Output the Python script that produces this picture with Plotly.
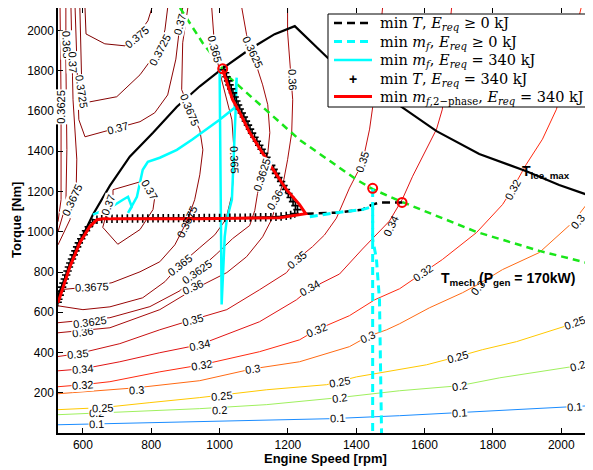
import plotly.graph_objects as go

# ---------------- efficiency contour lines (rpm, Nm) ----------------
c010_rpm = [527, 942, 1322, 1527, 1702, 1994, 2090]
c010_nm = [41, 56, 71, 86, 101, 126, 136]
c020_rpm = [527, 796, 942, 1138, 1351, 1527, 1702, 1819, 2015, 2090]
c020_nm = [91, 111, 121, 141, 176, 210, 235, 274, 324, 345]
c025_rpm = [527, 656, 796, 942, 1138, 1313, 1401, 1527, 1606, 1696, 1769, 1869, 1994, 2090]
c025_nm = [116, 126, 151, 176, 215, 240, 279, 314, 339, 379, 414, 454, 523, 573]
c030_rpm = [527, 758, 942, 1097, 1234, 1380, 1433, 1489, 1527, 1614, 1711, 1755, 1828, 1936, 2033, 2090]
c030_nm = [195, 225, 260, 319, 354, 429, 479, 513, 543, 622, 697, 737, 812, 897, 1046, 1170]
c032_rpm = [527, 600, 679, 825, 948, 1117, 1234, 1284, 1380, 1454, 1527, 1594, 1652, 1752, 1828, 1857, 1898, 1945, 1986, 2023, 2058]
c032_nm = [230, 240, 255, 304, 339, 404, 463, 513, 583, 662, 717, 797, 862, 996, 1135, 1212, 1336, 1460, 1609, 1858, 2112]
c034_rpm = [527, 600, 708, 825, 942, 1117, 1225, 1264, 1351, 1418, 1497, 1535, 1565, 1635, 1652, 1664, 1679]
c034_nm = [309, 319, 354, 399, 439, 553, 662, 716, 790, 914, 1053, 1162, 1276, 1510, 1609, 1858, 2112]
c035_rpm = [527, 585, 708, 825, 921, 1021, 1117, 1196, 1225, 1272, 1307, 1342, 1380, 1418, 1439, 1448, 1462, 1477]
c035_nm = [380, 394, 444, 513, 563, 613, 712, 797, 861, 926, 984, 1068, 1217, 1342, 1510, 1619, 1858, 2112]
c036_rpm = [527, 679, 825, 922, 1021, 1079, 1126, 1152, 1170, 1188, 1199, 1211, 1214, 1205, 1199, 1199]
c036_nm = [498, 523, 613, 712, 797, 876, 975, 1060, 1159, 1259, 1358, 1492, 1656, 1855, 1992, 2113]
c03625a_rpm = [527, 679, 796, 884, 933, 992, 1038, 1088, 1103, 1111, 1126, 1141, 1147, 1141, 1126, 1103, 1079, 1065]
c03625a_nm = [548, 573, 628, 707, 802, 891, 966, 1031, 1106, 1190, 1290, 1389, 1492, 1631, 1730, 1855, 1979, 2113]
c03625b_rpm = [533, 536, 536, 527]
c03625b_nm = [2113, 1656, 1160, 1050]
c0365a_rpm = [527, 600, 679, 775, 840, 884, 942, 986, 1018, 1036, 1044, 1036, 1006, 986, 977]
c0365a_nm = [632, 613, 627, 672, 752, 836, 921, 985, 1060, 1184, 1358, 1556, 1755, 1904, 2113]
c0365b_rpm = [550, 550, 553, 550, 527]
c0365b_nm = [2113, 1858, 1408, 1134, 1000]
c03675a_rpm = [533, 626, 685, 767, 825, 869, 904, 927, 942, 951, 942, 913, 889, 892, 907]
c03675a_nm = [712, 727, 747, 801, 851, 935, 1050, 1159, 1283, 1407, 1507, 1606, 1706, 1939, 2113]
c03675b_rpm = [565, 571, 582, 580, 562, 527]
c03675b_nm = [2113, 1656, 1361, 1194, 1060, 935]
c037a_rpm = [577, 582, 588, 606, 702, 767, 810, 848, 872, 884, 892]
c037a_nm = [2113, 1858, 1557, 1472, 1517, 1547, 1591, 1680, 1858, 2032, 2113]
c037b_rpm = [688, 767, 796, 810, 805, 767, 702, 658, 670, 688, 688]
c037b_nm = [1209, 1248, 1224, 1169, 1110, 1011, 938, 1022, 1097, 1185, 1209]
c03725_rpm = [591, 594, 597, 606, 699, 767, 802, 825, 840, 848]
c03725_nm = [2113, 1858, 1696, 1641, 1671, 1780, 1858, 1914, 2003, 2113]
c0375_rpm = [606, 609, 664, 723, 758, 790, 802]
c0375_nm = [2113, 1983, 1934, 1924, 1974, 2048, 2113]

# contour label texts and positions
lab_text = ["0.1", "0.1", "0.1", "0.1",
            "0.2", "0.2", "0.2", "0.2", "0.2",
            "0.25", "0.25", "0.25", "0.25", "0.25",
            "0.3", "0.3", "0.3", "0.3", "0.3",
            "0.32", "0.32", "0.32", "0.32", "0.32",
            "0.34", "0.34", "0.34", "0.34",
            "0.35", "0.35", "0.35", "0.35",
            "0.36", "0.36", "0.36", "0.36",
            "0.3625", "0.3625", "0.3625", "0.3625",
            "0.365", "0.365", "0.365",
            "0.3675", "0.3675", "0.3675", "0.3675",
            "0.37", "0.37", "0.37", "0.37",
            "0.3725", "0.3725", "0.375",
            "0.3625", "0.365", "0.37"]
lab_rpm = [641, 1345, 1702, 2038,
           641, 1000, 1351, 1702, 2047,
           656, 1006, 1351, 1696, 2038,
           758, 1097, 1433, 1755, 2047,
           600, 948, 1284, 1594, 1857,
           600, 942, 1264, 1501,
           585, 921, 1225, 1418,
           600, 922, 1161, 1214,
           620, 933, 1123, 1097,
           884, 1044, 986,
           626, 904, 913, 568,
           702, 884, 673, 796,
           597, 825, 758,
           536, 553, 571]
lab_nm = [46, 76, 101, 131,
          101, 115, 176, 235, 334,
          126, 186, 255, 379, 548,
          215, 319, 478, 722, 1050,
          240, 339, 513, 797, 1209,
          320, 439, 722, 1030,
          394, 563, 861, 1346,
          503, 727, 1159, 1755,
          553, 801, 1283, 1893,
          836, 1358, 1908,
          727, 1050, 1606, 1159,
          1517, 2032, 1135, 1209,
          1696, 1904, 1969,
          1621, 1929, 1845]
lab_angle = [-2, -3, -4, -5,
             -2, -3, -8, -10, -15,
             -3, -5, -10, -15, -20,
             -4, -8, -25, -50, -50,
             -4, -10, -22, -35, -62,
             -5, -12, -30, -65,
             -5, -15, -40, -72,
             -8, -25, -60, 88,
             -8, -35, -72, 65,
             -38, 88, 75,
             -3, -65, 68, -65,
             -15, -75, -70, 60,
             82, -62, -40,
             -90, 88, 88]
lab_clear = [0] * len(lab_text)
for i in (17, 27, 41, 44):
    lab_clear[i] = 1

# ---------------- overlay curves ----------------
tmax_rpm = [527, 568, 606, 629, 679, 737, 805, 875, 942, 1006, 1088, 1161, 1220, 1316, 1468, 1635, 1760, 1898, 1994, 2088]
tmax_nm = [682, 854, 1003, 1085, 1229, 1373, 1492, 1621, 1723, 1808, 1907, 1982, 2022, 1865, 1696, 1500, 1386, 1301, 1232, 1177]

tmech_rpm = [884, 951, 1030, 1234, 1401, 1448, 1527, 1752, 1936, 2088]
tmech_nm = [2113, 1937, 1765, 1457, 1259, 1212, 1153, 999, 905, 840]

minT_e0_rpm = [1252, 1342, 1418, 1447, 1468, 1535]
minT_e0_nm = [1090, 1095, 1110, 1135, 1145, 1145]

minmf_e0_rpm = [1264, 1342, 1418, 1448, 1448, 1459, 1468, 1474]
minmf_e0_nm = [1075, 1095, 1110, 1125, 964, 865, 662, 0]
minmf_e0b_rpm = [1448, 1448]
minmf_e0b_nm = [1212, 0]

minmf_e340_rpm = [629, 679, 717, 732, 743, 732, 758, 767, 775, 790, 825, 875, 919, 1000, 1044, 1050,
                  1047, 1036, 1021, 1015, 1009, 1006, 1000]
minmf_e340_nm = [1085, 1119, 1159, 1174, 1124, 1094, 1174, 1244, 1308, 1348, 1368, 1407, 1457, 1557, 1616, 1766,
                 1607, 1160, 1060, 976, 728, 639, 1808]

minT_e340_rpm = [526, 528, 532, 535, 539, 543, 547, 551, 555, 559, 563, 568, 573, 578, 583, 588, 595, 602, 609, 617, 628,
                 641, 655, 670, 685, 700, 715, 730, 745, 760, 775, 790, 805, 820, 835, 850, 865, 880, 895, 910, 925,
                 940, 955, 970, 985, 1000, 1015, 1030, 1045, 1060, 1075, 1090, 1105, 1120, 1135, 1150, 1165, 1180,
                 1195, 1208, 1220,
                 1228, 1222, 1215, 1208, 1201, 1194, 1187, 1180, 1172, 1165, 1158, 1151, 1144, 1137, 1130, 1123,
                 1116, 1109, 1102, 1095, 1089, 1083, 1077, 1071, 1065, 1059, 1054, 1049, 1044, 1039, 1034, 1029,
                 1025, 1020, 1016, 1012]
minT_e340_nm = [650, 665, 685, 705, 725, 745, 765, 785, 805, 825, 845, 865, 885, 905, 925, 945, 965, 985, 1005, 1025, 1045,
                1060, 1063, 1064, 1065, 1065, 1065, 1066, 1066, 1066, 1066, 1066, 1067, 1067, 1067, 1067, 1067, 1068,
                1068, 1068, 1068, 1068, 1069, 1069, 1069, 1069, 1069, 1070, 1070, 1070, 1070, 1071, 1071, 1072, 1072,
                1073, 1074, 1076, 1079, 1083, 1090,
                1110, 1130, 1150, 1170, 1190, 1210, 1230, 1250, 1270, 1290, 1310, 1330, 1350, 1370, 1390, 1410,
                1430, 1450, 1470, 1490, 1510, 1530, 1550, 1570, 1590, 1610, 1630, 1650, 1670, 1690, 1710, 1730,
                1750, 1770, 1790, 1805]

minmf2_rpm = [1009, 1038, 1059, 1088, 1147, 1196, 1234, 1252, 1176, 942, 658, 641, 620, 591, 562, 533, 527]
minmf2_nm = [1805, 1657, 1592, 1493, 1334, 1209, 1135, 1090, 1070, 1065, 1065, 1060, 1026, 946, 827, 677, 647]

opt_rpm = [1009, 1448, 1534]
opt_nm = [1810, 1216, 1146]

legend_labels = [
    "min <i>T</i>, <i>E</i><sub><i>req</i></sub> ≥ 0 kJ",
    "min <i>m</i><sub><i>f</i></sub>, <i>E</i><sub><i>req</i></sub> ≥ 0 kJ",
    "min <i>m</i><sub><i>f</i></sub>, <i>E</i><sub><i>req</i></sub> = 340 kJ",
    "min <i>T</i>, <i>E</i><sub><i>req</i></sub> = 340 kJ",
    "min <i>m</i><sub><i>f</i>,2−phase</sub>, <i>E</i><sub><i>req</i></sub> = 340 kJ",
]

# ---------------- styling ----------------
SANS = "Liberation Sans, Arial, Helvetica, sans-serif"
SERIF = "DejaVu Serif, Liberation Serif, serif"

CYAN = "#00ffff"
RED = "#ff0000"
GREEN = "#19e619"
DASH = "8px,5px"

contours = [
    (c010_rpm, c010_nm, "#1a8cff"),
    (c020_rpm, c020_nm, "#9ff05e"),
    (c025_rpm, c025_nm, "#ffc800"),
    (c030_rpm, c030_nm, "#ff6a14"),
    (c032_rpm, c032_nm, "#ff2a10"),
    (c034_rpm, c034_nm, "#e01414"),
    (c035_rpm, c035_nm, "#c81010"),
    (c036_rpm, c036_nm, "#a50a0a"),
    (c03625a_rpm, c03625a_nm, "#9e0808"),
    (c03625b_rpm, c03625b_nm, "#9e0808"),
    (c0365a_rpm, c0365a_nm, "#980606"),
    (c0365b_rpm, c0365b_nm, "#980606"),
    (c03675a_rpm, c03675a_nm, "#920505"),
    (c03675b_rpm, c03675b_nm, "#920505"),
    (c037a_rpm, c037a_nm, "#8c0404"),
    (c037b_rpm, c037b_nm, "#8c0404"),
    (c03725_rpm, c03725_nm, "#860303"),
    (c0375_rpm, c0375_nm, "#800000"),
]

fig = go.Figure()
for xs, ys, col in contours:
    fig.add_trace(go.Scatter(x=xs, y=ys, mode="lines", line=dict(color=col, width=1),
                             hoverinfo="skip", name="efficiency"))

fig.add_trace(go.Scatter(x=tmax_rpm, y=tmax_nm, mode="lines", line=dict(color="black", width=2.2),
                         hoverinfo="skip", name="T ice, max"))
fig.add_trace(go.Scatter(x=tmech_rpm, y=tmech_nm, mode="lines",
                         line=dict(color=GREEN, width=2.5, dash="7px,5px"),
                         hoverinfo="skip", name="T mech"))

fig.add_trace(go.Scatter(x=minT_e0_rpm, y=minT_e0_nm, mode="lines",
                         line=dict(color="black", width=2.5, dash=DASH), name=legend_labels[0]))
fig.add_trace(go.Scatter(x=minmf_e0_rpm, y=minmf_e0_nm, mode="lines",
                         line=dict(color=CYAN, width=3, dash=DASH), name=legend_labels[1]))
fig.add_trace(go.Scatter(x=minmf_e0b_rpm, y=minmf_e0b_nm, mode="lines",
                         line=dict(color=CYAN, width=3, dash=DASH), name=legend_labels[1]))
fig.add_trace(go.Scatter(x=minmf_e340_rpm, y=minmf_e340_nm, mode="lines",
                         line=dict(color=CYAN, width=2.5), name=legend_labels[2]))
fig.add_trace(go.Scatter(x=minT_e340_rpm, y=minT_e340_nm, mode="markers",
                         marker=dict(symbol="cross-thin", size=6, color="black",
                                     line=dict(color="black", width=1.6)),
                         name=legend_labels[3]))
fig.add_trace(go.Scatter(x=minmf2_rpm, y=minmf2_nm, mode="lines",
                         line=dict(color=RED, width=3), name=legend_labels[4]))
fig.add_trace(go.Scatter(x=opt_rpm, y=opt_nm, mode="markers",
                         marker=dict(symbol="circle-open", size=9, color=RED,
                                     line=dict(color=RED, width=2)),
                         hoverinfo="skip", name="optimum"))

annotations = []
for t, xr, yn, ang, clr in zip(lab_text, lab_rpm, lab_nm, lab_angle, lab_clear):
    annotations.append(dict(x=xr, y=yn, xref="x", yref="y", text=t, textangle=ang,
                            showarrow=False, font=dict(family=SANS, size=11, color="black"),
                            bgcolor=None if clr else "white", borderpad=0))

annotations.append(dict(x=1880, y=1295, xref="x", yref="y", xanchor="left", yanchor="middle",
                        text="<b>T<sub>ice, max</sub></b>", showarrow=False,
                        font=dict(family=SANS, size=14, color="black")))
annotations.append(dict(x=1642, y=765, xref="x", yref="y", xanchor="left", yanchor="middle",
                        text="<b>T<sub>mech</sub> (P<sub>gen</sub> = 170kW)</b>", showarrow=False,
                        font=dict(family=SANS, size=14, color="black")))

# The page adds an 8 px body margin, so the figure is laid out 8 px left/up of the
# screen positions it should occupy.
SHIFT = 8
W, H = 593, 470
L = 58 - SHIFT
T = 8 - SHIFT
R = W - (592 - SHIFT)
B = H - (433 - SHIFT)
PW, PH = W - L - R, H - T - B


def paper_xy(sx, sy):
    fx, fy = sx - SHIFT, sy - SHIFT
    return (fx - L) / PW, 1 - (fy - T) / PH


ax_, ay_ = paper_xy(17, 220)
annotations.append(dict(x=ax_, y=ay_, xref="paper", yref="paper", xanchor="center",
                        yanchor="middle", text="<b>Torque [Nm]</b>", textangle=-90, showarrow=False,
                        font=dict(family=SANS, size=13, color="black")))
bx_, by_ = paper_xy(325, 458)
annotations.append(dict(x=bx_, y=by_, xref="paper", yref="paper", xanchor="center",
                        yanchor="middle", text="<b>Engine Speed [rpm]</b>", showarrow=False,
                        font=dict(family=SANS, size=13, color="black")))

# ---- legend box (drawn by hand to match the reference geometry) ----
shapes = []
bx0, by0 = paper_xy(328, 14)
bx1, by1 = paper_xy(592, 107)
shapes.append(dict(type="rect", xref="paper", yref="paper", x0=bx0, y0=by0, x1=bx1, y1=by1,
                   line=dict(color="black", width=1), fillcolor="white", layer="above"))
row_y = [23, 41.5, 60, 78.5, 96.5]
row_style = [("black", 2.5, DASH), (CYAN, 3, DASH), (CYAN, 2.5, "solid"), None, (RED, 3, "solid")]
for ry, sty, lab in zip(row_y, row_style, legend_labels):
    sx0, sy = paper_xy(334, ry)
    sx1, _ = paper_xy(372, ry)
    if sty is None:
        mx, _ = paper_xy(353, ry)
        annotations.append(dict(x=mx, y=sy, xref="paper", yref="paper", xanchor="center",
                                yanchor="middle", text="<b>+</b>", showarrow=False,
                                font=dict(family=SANS, size=14, color="black")))
    else:
        col, wd, ds = sty
        shapes.append(dict(type="line", xref="paper", yref="paper", x0=sx0, y0=sy, x1=sx1, y1=sy,
                           line=dict(color=col, width=wd, dash=ds), layer="above"))
    tx, ty = paper_xy(378, ry + 1.5)
    annotations.append(dict(x=tx, y=ty, xref="paper", yref="paper", xanchor="left",
                            yanchor="middle", text=lab, showarrow=False,
                            font=dict(family=SERIF, size=14.5, color="black")))

fig.update_layout(
    width=W, height=H,
    margin=dict(l=L, r=R, t=T, b=B, autoexpand=False),
    paper_bgcolor="white", plot_bgcolor="white",
    font=dict(family=SANS, size=12, color="black"),
    showlegend=False,
    annotations=annotations,
    shapes=shapes,
    xaxis=dict(range=[527, 2090], tickvals=[600, 800, 1000, 1200, 1400, 1600, 1800, 2000],
               ticks="inside", ticklen=5, tickwidth=1, tickcolor="black",
               showline=True, linewidth=1.5, linecolor="black", mirror="ticks",
               showgrid=False, zeroline=False, automargin=False,
               tickfont=dict(family=SANS, size=12, color="black")),
    yaxis=dict(range=[0, 2112], tickvals=[200, 400, 600, 800, 1000, 1200, 1400, 1600, 1800, 2000],
               ticks="inside", ticklen=5, tickwidth=1, tickcolor="black",
               showline=True, linewidth=1.5, linecolor="black", mirror="ticks",
               showgrid=False, zeroline=False, automargin=False,
               tickfont=dict(family=SANS, size=12, color="black")),
)

fig.write_html("out.html")
